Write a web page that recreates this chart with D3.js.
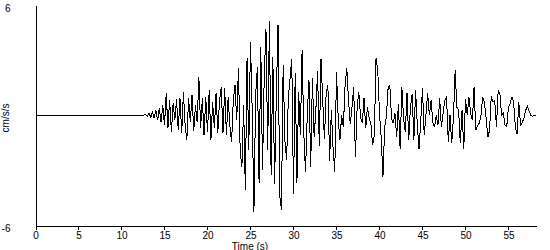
<!DOCTYPE html>
<meta charset="utf-8">
<style>
body { margin: 0; background: #fff; }
text { font-family: "Liberation Sans", Arial, sans-serif; fill: #000; }
</style>
<body>
<script src="https://d3js.org/d3.v7.min.js"></script>
<script>

var width = 550,
    height = 250;

// acceleration record
var sampleStart = 12.4,   // s, record is flat before this
    sampleStep = 0.2;     // s
var accel = [
  0, 0, 0.05, -0.05, 0.11, -0.11, 0.16, -0.16, 0.27, -0.27,
  0.38, -0.38, 0.55, -0.55, 1.20, -0.71, 0.82, -0.93, 0.65, -0.27,
  0.87, -0.82, 0.93, -0.98, 1.25, -0.55, -1.36, 0.93, -0.38, 1.09,
  -0.87, 0.55, -0.38, 2.07, -0.71, 0.93, -1.09, 0.98, -0.93, 1.36,
  -1.36, 0.71, -0.71, 1.20, -0.98, 0.82, 1.53, -0.98, 1.47, -1.09,
  0.98, -0.55, -1.47, 0.82, 1.64, -0.27, 2.56, -1.91, -2.84, 0.55,
  -4.09, 3.11, -1.91, 3.98, 0.27, -5.29, 1.09, 2.62, -3.71, 3.71,
  -3.00, 2.18, 4.69, -1.91, 5.13, -3.27, 3.16, -3.76, 0.98, 4.91,
  -4.36, -5.13, 2.73, -1.36, -2.45, 0.98, 2.02, 3.06, -4.26, 2.29,
  -3.66, 1.25, -1.09, 3.55, -0.98, -3.11, 0, 1.91, -2.84, 2.02,
  -1.20, 0.27, 2.40, -1.69, 3.06, 0.82, -1.31, 1.20, 1.64, -2.51,
  0.27, -1.75, -3.11, 2.35, -0.16, -1.36, 0, -0.65, 1.64, 2.56,
  0.82, -0.49, 0.44, 1.53, -2.29, 0.44, 1.25, -0.11, -0.44, 0.93,
  -0.71, 0.44, -0.16, -0.44, -1.64, -1.09, 3.11, 2.45, 0.11, -1.20,
  -3.38, -0.65, -0.11, 1.47, 1.64, -0.16, -0.44, 0.11, -1.20, 0.60,
  -1.85, 1.53, -0.16, -0.93, 1.20, -1.36, 0.44, 1.15, -1.36, 1.36,
  -0.55, -1.85, -0.27, 1.47, -1.09, 0, 1.20, 0, 0.82, -0.38,
  -0.65, 0, -0.55, 0.93, -0.65, 0.11, 0.82, 0.98, -1.47, 0,
  -1.53, -0.11, 2.45, 0.44, 0.27, -1.53, 0.27, -1.85, 0.87, 0,
  0.98, 0.11, -0.27, 1.53, -0.82, -0.55, -0.44, 0, 0.98, 0.71,
  -0.16, -1.20, -0.82, 1.04, 0.71, 0.82, -0.65, 1.36, 1.20, 0,
  0.11, -0.55, -0.60, 0.44, 0.65, 0.98, 0.71, -0.65, -1.04, 0.71,
  -0.55, -0.38, -0.16, 0.27, 0.49, 0.22, 0, -0.05, 0, 0
];
var preEvent = { t: 0, v: 0 };

var xTicks = [0, 5, 10, 15, 20, 25, 30, 35, 40, 45, 50, 55];
var yTicks = [-6, 6];
var xDomain = [0, 58.2],
    yDomain = [-6, 6];

var series = [preEvent].concat(accel.map(function(v, i) {
  return { t: sampleStart + i * sampleStep, v: v };
}));

var svg = d3.select("body").append("svg")
    .attr("width", width)
    .attr("height", height);

var x = d3.scaleLinear().domain(xDomain).range([35.5, 536]);
var y = d3.scaleLinear().domain(yDomain).range([225.5, 5]);

// x axis
var xAxis = svg.append("g")
    .attr("transform", "translate(0," + y(-6) + ")")
    .call(d3.axisBottom(x).tickValues(xTicks).tickSizeInner(4).tickSizeOuter(0).tickPadding(2.5));
xAxis.select(".domain").attr("stroke", "#000").attr("shape-rendering", "crispEdges");
xAxis.selectAll(".tick line").attr("stroke", "#000").attr("shape-rendering", "crispEdges");
xAxis.selectAll(".tick text").attr("font-size", 10).attr("font-family", "Liberation Sans, Arial, sans-serif");

// y axis, only the end values are labelled
var yAxis = svg.append("g")
    .attr("transform", "translate(" + x(0) + ",0)")
    .call(d3.axisLeft(y).tickValues(yTicks).tickSize(0).tickPadding(25)
      .tickFormat(function(d) { return String(d); }));
yAxis.select(".domain").attr("stroke", "#000").attr("shape-rendering", "crispEdges");
yAxis.selectAll(".tick text")
    .attr("font-size", 10)
    .attr("font-family", "Liberation Sans, Arial, sans-serif")
    .attr("dy", "0.6em");

var line = d3.line()
    .x(function(d) { return x(d.t); })
    .y(function(d) { return y(d.v); });

svg.append("path")
    .datum(series)
    .attr("fill", "none")
    .attr("stroke", "#000")
    .attr("stroke-width", 1)
    .attr("shape-rendering", "crispEdges")
    .attr("d", line);

svg.append("text")
    .attr("x", 250)
    .attr("y", 249.5)
    .attr("text-anchor", "middle")
    .attr("font-size", 10)
    .text("Time (s)");

svg.append("text")
    .attr("transform", "translate(9,118) rotate(-90)")
    .attr("text-anchor", "middle")
    .attr("font-size", 10)
    .text("cm/s/s");

</script>
